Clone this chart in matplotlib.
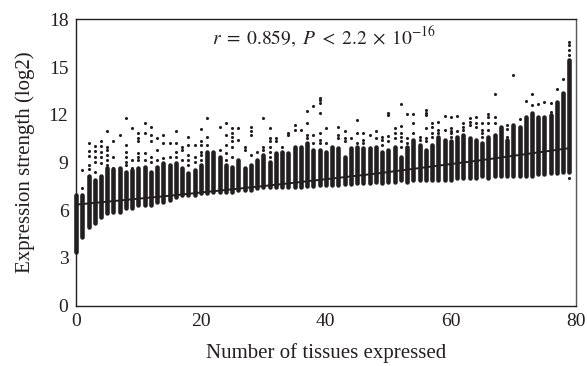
import numpy as np
import matplotlib
matplotlib.use("Agg")
import matplotlib.pyplot as plt

plt.rcParams['font.family'] = ['Liberation Serif', 'DejaVu Serif']
plt.rcParams['mathtext.fontset'] = 'stix'

# number of tissues in which a gene is expressed (one column per count)
tissues = np.arange(80)

# top and bottom of the dense part of every column (log2 expression)
dense_hi = [6.96, 6.96, 8.12, 7.90, 8.12, 8.64, 8.58, 8.64, 8.43, 8.53,
            8.64, 8.74, 8.43, 8.74, 8.95, 8.85, 8.95, 8.64, 8.33, 8.53,
            8.85, 9.69, 9.69, 9.37, 8.85, 8.74, 9.16, 8.64, 8.85, 9.16,
            9.48, 9.06, 9.58, 9.69, 9.58, 10.0, 10.0, 10.21, 9.79, 9.79,
            9.69, 10.0, 9.90, 9.37, 9.90, 10.0, 9.90, 9.90, 10.0, 9.69,
            9.79, 10.0, 9.37, 10.0, 10.42, 10.11, 9.79, 10.11, 10.63, 10.42,
            10.32, 10.63, 10.74, 10.53, 10.42, 10.21, 10.63, 10.74, 11.26, 10.42,
            11.36, 11.22, 11.89, 12.10, 11.85, 11.85, 12.0, 12.83, 13.36, 15.45]
dense_lo = [3.40, 4.34, 4.97, 5.18, 5.60, 5.81, 5.91, 5.91, 6.12, 6.12,
            6.33, 6.33, 6.33, 6.54, 6.54, 6.65, 6.86, 6.96, 6.96, 6.96,
            7.07, 7.07, 7.17, 7.17, 7.17, 7.17, 7.28, 7.28, 7.28, 7.38,
            7.49, 7.49, 7.49, 7.49, 7.49, 7.49, 7.49, 7.53, 7.53, 7.59,
            7.59, 7.59, 7.59, 7.65, 7.65, 7.70, 7.70, 7.70, 7.80, 7.70,
            7.80, 7.80, 7.90, 7.80, 7.90, 7.90, 7.90, 7.90, 7.90, 7.90,
            7.90, 8.01, 8.01, 8.01, 8.01, 8.12, 8.01, 8.12, 8.12, 8.12,
            8.16, 8.12, 8.12, 8.16, 8.29, 8.29, 8.33, 8.33, 8.43, 8.43]

# isolated points above (or below) the dense part of each column
sparse = [
    [], [8.53, 7.38], [10.25, 9.75, 9.42, 8.85, 8.58], [10.04, 9.75, 9.37, 9.06, 8.43],
    [10.32, 10.04, 9.69, 9.37, 8.95], [10.95, 10.0, 9.79, 9.48, 9.16, 8.85],
    [10.32, 9.37, 8.64], [10.74], [11.78, 10.11, 9.69, 9.37, 9.06, 8.85],
    [11.16, 9.16, 8.64], [10.84, 10.53, 10.32, 9.62, 9.37, 9.16],
    [11.47, 10.84, 9.58, 9.16], [11.26, 10.74, 10.32, 9.37, 9.06],
    [10.53, 9.79, 9.16], [10.74, 10.21, 9.27], [10.21, 9.37],
    [10.95, 10.21, 9.69, 9.37], [10.0, 9.79, 9.16], [10.63, 10.11, 9.48, 9.16, 8.85],
    [10.11, 9.37, 9.06], [11.09, 10.32, 10.11, 9.69, 9.48, 9.16],
    [11.78, 10.63, 10.11], [], [11.22, 9.79], [11.51, 10.74, 10.11, 9.58, 9.16],
    [11.16, 10.88, 10.63, 10.32, 10.0, 9.37], [11.16, 10.42], [10.0, 9.79],
    [11.26, 10.95, 10.74, 9.48], [9.69], [11.78, 10.0, 9.79],
    [11.16, 10.53, 10.32, 10.0, 9.69, 9.37], [10.53, 10.32], [10.0],
    [10.88, 10.74], [11.36, 11.05, 9.90], [11.05], [12.25, 11.51, 10.74, 10.53],
    [12.58, 10.74, 10.21], [13.04, 12.90, 12.77, 12.14, 10.84, 10.42, 10.21],
    [11.16, 10.21], [], [11.26, 10.74, 10.53], [10.95, 10.53, 10.32], [10.53],
    [11.64, 10.84, 10.21], [10.88, 10.42, 10.21], [10.74], [10.95, 10.53],
    [10.63, 10.42, 10.11], [12.14, 11.99, 10.67, 10.32], [11.16, 10.84, 10.53],
    [12.69, 11.30, 10.84, 10.63, 10.32, 10.0], [12.06, 10.53, 10.21],
    [12.06, 11.47, 10.84], [10.63, 10.42], [12.27, 12.14, 11.99, 11.16, 10.53, 10.32],
    [11.47, 11.26, 10.84, 10.63], [11.57, 11.05, 10.84], [11.93, 11.05],
    [11.89, 11.16, 10.95, 10.84, 10.63], [11.93, 10.95], [11.47, 11.26, 11.05],
    [11.78, 11.57, 11.36], [11.85, 11.47, 11.22], [11.47, 11.05, 10.84, 10.63],
    [12.06, 11.85, 11.47, 11.05], [13.31, 11.85, 11.47], [], [11.36, 11.11, 10.63],
    [14.51], [11.72], [12.87], [13.30, 12.62], [12.69], [12.83], [12.77, 12.20],
    [13.60], [14.24], [16.60, 16.40, 16.08, 15.77, 8.05],
]

# fitted trend
fit_x = [0, 16, 32, 48, 64, 79]
fit_y = [6.35, 6.95, 7.6, 8.3, 9.1, 9.9]

ink = '#231f20'

fig = plt.figure(figsize=(5.87, 3.66), dpi=100)
ax = fig.add_axes([0.1295, 0.1648, 0.8513, 0.7825])

strips = ax.vlines(tissues, dense_lo, dense_hi, colors=ink, linewidth=3.3, clip_on=False)
strips.set_capstyle('round')

sx = [t for t, pts in zip(tissues, sparse) for _ in pts]
sy = [v for pts in sparse for v in pts]
ax.scatter(sx, sy, s=5, color=ink, linewidths=0, clip_on=False, zorder=3)

ax.plot(fit_x, fit_y, color=ink, linewidth=1.4, zorder=4)

ax.set_xlim(0, 80)
ax.set_ylim(0, 18)
ax.set_xticks([0, 20, 40, 60, 80])
ax.set_yticks([0, 3, 6, 9, 12, 15, 18])
ax.tick_params(length=0, labelsize=14, pad=5.5, colors=ink)
for side in ['left', 'bottom', 'top']:
    ax.spines[side].set_linewidth(1.0)
    ax.spines[side].set_color(ink)
ax.spines['right'].set_linewidth(1.0)
ax.spines['right'].set_color('#555555')

ax.set_xlabel('Number of tissues expressed', fontsize=15, color=ink, labelpad=9)
ax.set_ylabel('Expression strength (log2)', fontsize=15, color=ink, labelpad=10)

ax.text(39.7, 16.9, r'$r\;=\;0.859,\ P\;<\;2.2\;\times\;10^{-16}$', fontsize=14,
        ha='center', va='center', color=ink)

fig.savefig('out.png', dpi=100)
